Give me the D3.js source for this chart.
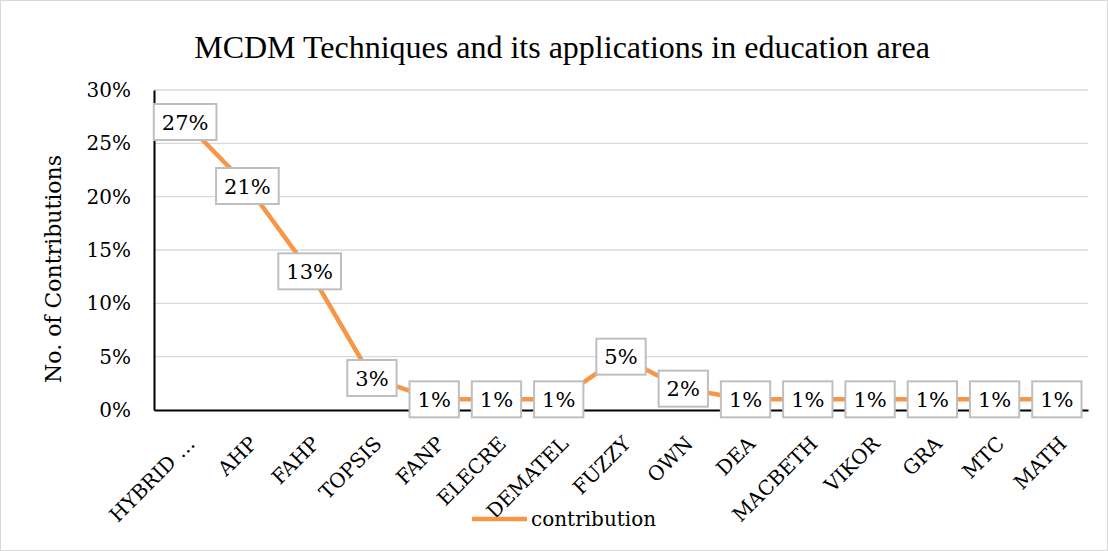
<!DOCTYPE html>
<html lang="en">
<head>
<meta charset="UTF-8">
<title>MCDM Techniques</title>
<script src="https://d3js.org/d3.v7.min.js"></script>
<style>
    body { margin: 0; background: #fff; }
    svg { font-family: 'DejaVu Serif', serif; }
</style>
</head>
<body>
<script>
// chart data
var categories = ['HYBRID …', 'AHP', 'FAHP', 'TOPSIS', 'FANP', 'ELECRE', 'DEMATEL', 'FUZZY', 'OWN', 'DEA', 'MACBETH', 'VIKOR', 'GRA', 'MTC', 'MATH'];
var values = [27, 21, 13, 3, 1, 1, 1, 5, 2, 1, 1, 1, 1, 1, 1];
var yTicks = [0, 5, 10, 15, 20, 25, 30];
var seriesName = 'contribution';

var width = 1108, height = 551;
var plotLeft = 154, plotRight = 1088, plotTop = 90, plotBottom = 410;
var orange = '#f79646';

var svg = d3.select('body').append('svg')
    .attr('width', width)
    .attr('height', height);

// outer frame
svg.append('rect')
    .attr('x', 0.5).attr('y', 0.5)
    .attr('width', width - 1).attr('height', height - 1)
    .attr('fill', '#fff')
    .attr('stroke', '#d9d9d9');

// title
svg.append('text')
    .attr('x', 562)
    .attr('y', 58)
    .attr('text-anchor', 'middle')
    .style('font-family', "'Liberation Serif', serif")
    .style('font-size', '32px')
    .text('MCDM Techniques and its applications in education area');

var x = d3.scaleBand().domain(categories).range([plotLeft, plotRight]);
var y = d3.scaleLinear().domain([0, 30]).range([plotBottom, plotTop]);

// gridlines
svg.append('g').selectAll('line')
    .data(yTicks.filter(d => d > 0))
    .enter().append('line')
    .attr('x1', plotLeft).attr('x2', plotRight)
    .attr('y1', d => y(d)).attr('y2', d => y(d))
    .attr('stroke', '#d9d9d9')
    .attr('stroke-width', 1.3);

// y axis
var yAxis = d3.axisLeft(y).tickValues(yTicks).tickFormat(d => d + '%').tickSize(0).tickPadding(23);
var yg = svg.append('g').attr('transform', 'translate(' + plotLeft + ',0)').call(yAxis);
yg.select('.domain').attr('stroke', '#000').attr('stroke-width', 2);
yg.selectAll('text')
    .style('font-size', '20px')
    .style('font-family', 'DejaVu Serif')
    .attr('fill', '#000');

// x axis
var xAxis = d3.axisBottom(x).tickSize(0).tickPadding(0);
var xg = svg.append('g').attr('transform', 'translate(0,' + plotBottom + ')').call(xAxis);
xg.select('.domain').attr('stroke', '#000').attr('stroke-width', 2);
xg.selectAll('text')
    .style('font-size', '20px')
    .style('font-family', 'DejaVu Serif')
    .attr('fill', '#000')
    .attr('text-anchor', 'end')
    .attr('x', 0).attr('y', 0)
    .attr('dy', '0.35em')
    .attr('transform', 'translate(6,30) rotate(-45)');

// y title
svg.append('text')
    .attr('transform', 'translate(61,269) rotate(-90)')
    .attr('text-anchor', 'middle')
    .style('font-size', '22px')
    .text('No. of Contributions');

// line
var cx = d => x(d) + x.bandwidth() / 2;
var line = d3.line().x((d, i) => cx(categories[i])).y(d => y(d));
svg.append('path')
    .datum(values)
    .attr('d', line)
    .attr('fill', 'none')
    .attr('stroke', orange)
    .attr('stroke-width', 4.5);

// data labels
var labels = svg.append('g').selectAll('g')
    .data(values)
    .enter().append('g')
    .attr('transform', (d, i) => 'translate(' + cx(categories[i]) + ',' + y(d) + ')');
labels.each(function(d) {
    var g = d3.select(this);
    var t = g.append('text')
        .attr('text-anchor', 'middle')
        .attr('dy', '0.36em')
        .style('font-size', '21px')
        .text(d + '%');
    var w = t.node().getComputedTextLength() + 16;
    g.insert('rect', 'text')
        .attr('x', -w / 2).attr('y', -18)
        .attr('width', w).attr('height', 36)
        .attr('fill', '#fff')
        .attr('stroke', '#bfbfbf')
        .attr('stroke-width', 2);
});

// legend
svg.append('line')
    .attr('x1', 472).attr('x2', 527)
    .attr('y1', 519).attr('y2', 519)
    .attr('stroke', orange)
    .attr('stroke-width', 4.5);
svg.append('text')
    .attr('x', 531)
    .attr('y', 526)
    .style('font-size', '20px')
    .text(seriesName);
</script>
</body>
</html>
